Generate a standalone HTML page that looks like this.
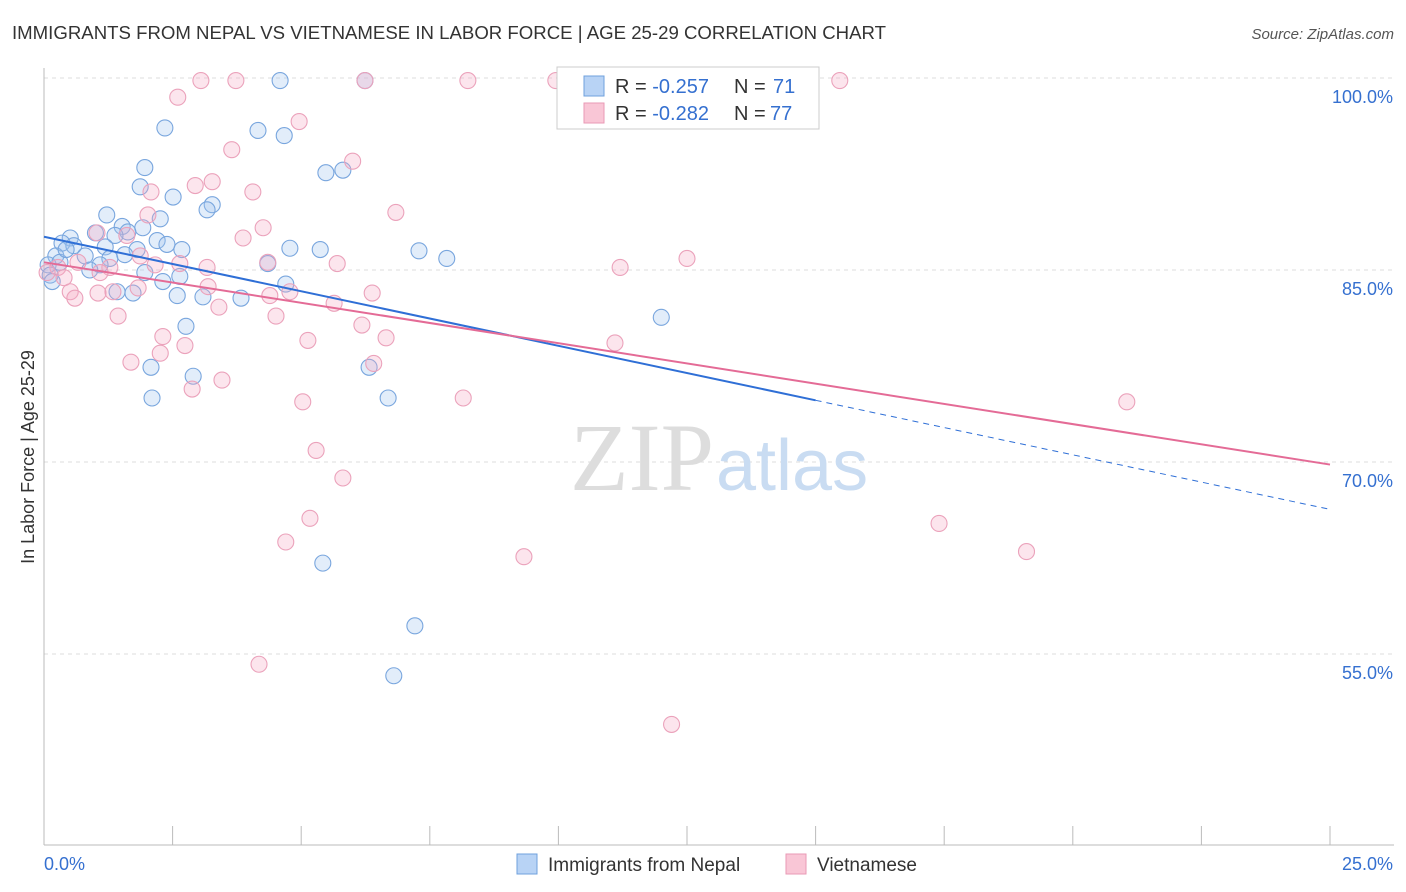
<!DOCTYPE html>
<html><head><meta charset="utf-8"><style>
body{margin:0;background:#fff;font-family:"Liberation Sans",sans-serif;}
svg{display:block}
</style></head><body>
<svg id="chart" width="1406" height="892" viewBox="0 0 1406 892" xmlns="http://www.w3.org/2000/svg">
<text x="12" y="39" font-size="18" fill="#333" textLength="874" lengthAdjust="spacingAndGlyphs">IMMIGRANTS FROM NEPAL VS VIETNAMESE IN LABOR FORCE | AGE 25-29 CORRELATION CHART</text>
<text x="1394" y="39" font-size="15" fill="#555" text-anchor="end" font-style="italic">Source: ZipAtlas.com</text>
<g id="grid"></g>
<g id="axes"></g>
<text x="714" y="490" font-size="96" fill="#ddd" text-anchor="end" font-family="Liberation Serif">ZIP</text>
<text x="716" y="490" font-size="72" fill="#c9dcf2">atlas</text>
<g id="points"></g>
<g id="lines"></g>
<g>
<rect x="557" y="67" width="262" height="62" fill="#fff" stroke="#ccc"/>
<rect x="584" y="76" width="20" height="20" fill="#b8d3f5" stroke="#6fa0dd"/>
<rect x="584" y="103" width="20" height="20" fill="#f9c6d6" stroke="#e99ab5"/>
<text x="615" y="93" font-size="20" fill="#333">R = <tspan fill="#3570d0">-0.257</tspan><tspan x="734">N =</tspan><tspan x="773" fill="#3570d0">71</tspan></text>
<text x="615" y="120" font-size="20" fill="#333">R = <tspan fill="#3570d0">-0.282</tspan><tspan x="734">N =</tspan><tspan x="770" fill="#3570d0">77</tspan></text>
</g>
<g>
<rect x="517" y="854" width="20" height="20" fill="#b8d3f5" stroke="#6fa0dd"/>
<text x="548" y="871" font-size="19" fill="#333">Immigrants from Nepal</text>
<rect x="786" y="854" width="20" height="20" fill="#f9c6d6" stroke="#e99ab5"/>
<text x="817" y="871" font-size="19" fill="#333">Vietnamese</text>
</g>
<text transform="translate(34,457) rotate(-90)" font-size="18" fill="#333" text-anchor="middle">In Labor Force | Age 25-29</text>
</svg>
<script>
const yTicks=[100,85,70,55];
const yTickLabels=["100.0%","85.0%","70.0%","55.0%"];
const xTickLabels=["0.0%","25.0%"];
const nepalX=[2.35,4.16,4.67,4.59,6.24,1.96,1.87,2.51,3.27,3.17,1.22,2.26,1.52,1.92,1.0,1.63,1.38,0.51,2.2,0.35,0.58,2.39,2.68,4.78,5.37,7.29,7.83,1.19,1.81,0.23,0.8,1.28,1.57,1.09,0.89,1.96,2.64,2.31,4.35,4.7,1.42,1.73,2.59,3.09,3.83,2.76,5.48,5.81,12.0,2.08,2.9,6.32,2.1,6.69,5.42,7.21,6.8,0.08,0.12,0.31,0.16,0.43];
const nepalY=[96.1,95.9,95.5,99.8,99.8,93.0,91.5,90.7,90.1,89.7,89.3,89.0,88.4,88.3,87.9,87.97,87.7,87.5,87.3,87.1,86.9,87.0,86.6,86.7,86.6,86.5,85.9,86.8,86.6,86.1,86.1,85.9,86.2,85.4,85.0,84.8,84.5,84.1,85.5,83.9,83.3,83.2,83.0,82.9,82.8,80.6,92.6,92.8,81.3,77.4,76.7,77.4,75.0,75.0,62.1,57.2,53.3,85.4,84.6,85.6,84.1,86.6];
const vietX=[3.05,3.73,6.24,8.24,9.95,15.47,2.6,4.96,3.65,6.0,3.27,2.94,4.06,2.08,6.84,2.02,4.26,3.87,1.61,1.03,12.5,11.2,5.7,4.35,3.17,2.64,2.16,1.87,1.28,0.66,0.27,0.06,0.39,1.09,3.19,4.78,4.39,6.38,5.64,3.4,1.83,1.34,1.05,0.51,0.6,1.44,4.51,6.18,2.31,5.13,6.65,11.1,2.74,2.26,1.69,6.41,3.46,2.88,5.03,8.15,21.05,5.29,5.81,5.17,17.4,4.7,19.1,9.33,4.18,12.2];
const vietY=[99.8,99.8,99.8,99.8,99.8,99.8,98.5,96.6,94.4,93.5,91.9,91.6,91.1,91.1,89.5,89.3,88.3,87.5,87.7,87.9,85.9,85.2,85.5,85.6,85.2,85.5,85.4,86.1,85.2,85.6,85.2,84.8,84.4,84.8,83.7,83.3,83.0,83.2,82.4,82.1,83.6,83.3,83.2,83.3,82.8,81.4,81.4,80.7,79.8,79.5,79.7,79.3,79.1,78.5,77.8,77.7,76.4,75.7,74.7,75.0,74.7,70.9,68.75,65.6,65.2,63.75,63.0,62.6,54.2,49.5];
const nepalTrend=[87.6,66.3];
const vietTrend=[85.6,69.8];
const nepalSolidEnd=15;
const NS="http://www.w3.org/2000/svg";
const X0=44,X1=1330,Y0=78;
function xs(v){return X0+v/25*(X1-X0);}
function ys(v){return Y0+(100-v)*12.8;}
function mk(t,a,p){const e=document.createElementNS(NS,t);for(const k in a)e.setAttribute(k,a[k]);p.appendChild(e);return e;}
const grid=document.getElementById('grid'),axes=document.getElementById('axes');
yTicks.forEach((t,i)=>{
 const g=mk('line',{x1:X0,x2:1394,y1:ys(t),y2:ys(t),stroke:'#ddd','stroke-dasharray':'4,4'},grid);
 
 
 const l=mk('text',{x:1393,y:ys(t)+25,'font-size':18,fill:'#3570d0','text-anchor':'end'},axes);
 l.textContent=yTickLabels[i];
 
 
});
mk('line',{x1:X0,x2:X0,y1:68,y2:845,stroke:'#bbb'},axes);
mk('line',{x1:X0,x2:1394,y1:845,y2:845,stroke:'#bbb'},axes);
for(let i=0;i<=10;i++){
 const t=mk('line',{x1:xs(i*2.5),x2:xs(i*2.5),y1:826,y2:845,stroke:'#bbb'},axes);
 
 
}
const xl0=mk('text',{x:44,y:870,'font-size':18,fill:'#3570d0'},axes);xl0.textContent=xTickLabels[0];


const xl1=mk('text',{x:1393,y:870,'font-size':18,fill:'#3570d0','text-anchor':'end'},axes);xl1.textContent=xTickLabels[1];


const pts=document.getElementById('points');
nepalX.forEach((x,i)=>{
 const c=mk('circle',{cx:xs(x),cy:ys(nepalY[i]),r:8,fill:'rgba(160,195,240,0.3)',stroke:'#79a6de','stroke-width':1.1},pts);
 
 
});
vietX.forEach((x,i)=>{
 const c=mk('circle',{cx:xs(x),cy:ys(vietY[i]),r:8,fill:'rgba(245,170,195,0.3)',stroke:'#eba2bb','stroke-width':1.1},pts);
 
 
});
const ln=document.getElementById('lines');
function ty(tr,x){return tr[0]+(tr[1]-tr[0])*x/25;}
const b1=mk('line',{x1:xs(0),y1:ys(nepalTrend[0]),x2:xs(nepalSolidEnd),y2:ys(ty(nepalTrend,nepalSolidEnd)),stroke:'#2f6fd6','stroke-width':2},ln);


const b2=mk('line',{x1:xs(nepalSolidEnd),y1:ys(ty(nepalTrend,nepalSolidEnd)),x2:xs(25),y2:ys(nepalTrend[1]),stroke:'#2f6fd6','stroke-width':1,'stroke-dasharray':'6,5'},ln);


const p1=mk('line',{x1:xs(0),y1:ys(vietTrend[0]),x2:xs(25),y2:ys(vietTrend[1]),stroke:'#e46b96','stroke-width':2},ln);


</script>
</body></html>
